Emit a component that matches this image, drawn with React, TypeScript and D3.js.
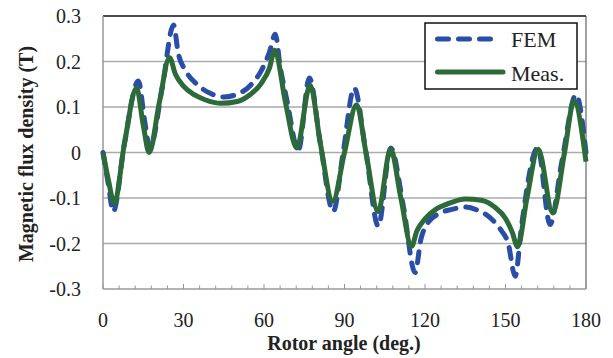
import * as d3 from 'd3';
import React from 'react';

// FEM (dashed blue)
const femAngle = [0, 2, 3.8, 8, 13.2, 15.5, 17.5, 22, 26.3, 28, 31, 35, 40, 45, 50, 55, 59, 62, 64.2, 66, 68.5, 72.8, 76.9, 81, 85.8, 89.5, 93.6, 98, 102.6, 107.2, 112, 116.3, 118.5, 121, 125, 130, 135, 140, 144, 148, 151, 153.6, 156, 162, 166.6, 171, 176.3, 180];
const femValue = [0, -0.07, -0.13, 0.02, 0.157, 0.07, 0.01, 0.14, 0.28, 0.22, 0.178, 0.15, 0.13, 0.122, 0.128, 0.148, 0.18, 0.22, 0.26, 0.19, 0.116, 0.005, 0.164, 0.02, -0.13, 0.0, 0.142, 0.0, -0.162, 0.01, -0.12, -0.264, -0.19, -0.155, -0.135, -0.125, -0.12, -0.128, -0.142, -0.168, -0.2, -0.272, -0.16, 0.01, -0.158, -0.02, 0.127, 0.0];

// Measurement (solid green)
const measAngle = [0, 2, 4.2, 8, 12.5, 15, 17.2, 21, 24.8, 27, 30, 34, 38, 44, 50, 55, 59, 62, 64, 68, 72.2, 77.2, 81, 85.6, 90, 94.5, 98, 102.5, 107.2, 111, 115, 117, 120, 124, 128, 135, 141, 146, 150, 152.5, 154.5, 158, 162.2, 167.6, 172, 175.5, 180];
const measValue = [0, -0.06, -0.112, 0.02, 0.142, 0.06, 0.0, 0.11, 0.208, 0.172, 0.146, 0.127, 0.116, 0.108, 0.112, 0.128, 0.152, 0.185, 0.225, 0.11, 0.01, 0.148, 0.02, -0.107, 0.0, 0.105, 0.0, -0.13, 0.007, -0.1, -0.206, -0.172, -0.146, -0.125, -0.114, -0.102, -0.105, -0.12, -0.145, -0.175, -0.207, -0.1, 0.007, -0.133, 0.0, 0.113, -0.02];

const xTicks = [0, 30, 60, 90, 120, 150, 180];
const yTicks = [0.3, 0.2, 0.1, 0, -0.1, -0.2, -0.3];
const yTickLabels = ['0.3', '0.2', '0.1', '0', '-0.1', '-0.2', '-0.3'];
const seriesNames = ['FEM', 'Meas.'];

const W = 613;
const H = 358;
const plot = { left: 103, right: 586, top: 16, bottom: 289 };
const blue = '#2a4ea8';
const green = '#2d6a39';
const font = '"Liberation Serif", "Times New Roman", serif';

export default function App() {
  const x = d3.scaleLinear().domain([0, 180]).range([plot.left, plot.right]);
  const y = d3.scaleLinear().domain([-0.3, 0.3]).range([plot.bottom, plot.top]);

  const line = d3
    .line<[number, number]>()
    .x((d) => x(d[0]))
    .y((d) => y(d[1]))
    .curve(d3.curveMonotoneX);

  const fem = femAngle.map((a, i) => [a, femValue[i]] as [number, number]);
  const meas = measAngle.map((a, i) => [a, measValue[i]] as [number, number]);
  const minor = d3.range(0, 181, 6);

  return (
    <svg width={W} height={H} style={{ position: 'absolute', left: 0, top: 0 }} fontFamily={font}>
      <rect width={W} height={H} fill="#fff" />
      {/* grid */}
      {yTicks.filter((t) => t !== 0.3 && t !== -0.3).map((t) => (
        <line key={t} x1={plot.left} x2={plot.right} y1={y(t)} y2={y(t)} stroke="#aaa" strokeWidth={1.5} />
      ))}
      {/* frame */}
      <line x1={plot.left} x2={plot.right} y1={plot.top} y2={plot.top} stroke="#111" strokeWidth={1.5} />
      <line x1={plot.right} x2={plot.right} y1={plot.top} y2={plot.bottom} stroke="#444" strokeWidth={1} />
      <line x1={plot.left} x2={plot.left} y1={plot.top} y2={plot.bottom} stroke="#999" strokeWidth={1.5} />
      <line x1={plot.left} x2={plot.right} y1={plot.bottom} y2={plot.bottom} stroke="#999" strokeWidth={1.5} />
      {minor.map((t) => (
        <line key={t} x1={x(t)} x2={x(t)} y1={plot.bottom} y2={plot.bottom - (t % 30 === 0 ? 5 : 3.5)} stroke="#999" strokeWidth={1} />
      ))}
      {/* series */}
      <path d={line(fem) ?? ''} fill="none" stroke={blue} strokeWidth={5} strokeDasharray="11,10" strokeLinecap="round" strokeLinejoin="round" />
      <path d={line(meas) ?? ''} fill="none" stroke={green} strokeWidth={5} strokeLinejoin="round" />
      {/* y tick labels */}
      {yTicks.map((t, i) => (
        <text key={t} x={81} y={y(t) + 7} textAnchor="end" fontSize={20} fill="#222">
          {yTickLabels[i]}
        </text>
      ))}
      {/* x tick labels */}
      {xTicks.map((t) => (
        <text key={t} x={x(t)} y={327} textAnchor="middle" fontSize={20} fill="#222">
          {t}
        </text>
      ))}
      <text x={344} y={350} textAnchor="middle" fontSize={20} fontWeight="bold" fill="#222">
        Rotor angle (deg.)
      </text>
      <text transform="translate(33,154) rotate(-90)" textAnchor="middle" fontSize={20} fontWeight="bold" fill="#222">
        Magnetic flux density (T)
      </text>
      {/* legend */}
      <rect x={425} y={23} width={152} height={66} fill="#fff" stroke="#111" strokeWidth={1.5} />
      <line x1={437.5} x2={493} y1={39} y2={39} stroke={blue} strokeWidth={5} strokeDasharray="11,10" strokeLinecap="round" />
      <line x1={437.5} x2={503} y1={72} y2={72} stroke={green} strokeWidth={5} strokeLinecap="round" />
      <text x={511} y={47} fontSize={22} fill="#222">{seriesNames[0]}</text>
      <text x={511} y={81} fontSize={22} fill="#222">{seriesNames[1]}</text>
    </svg>
  );
}
